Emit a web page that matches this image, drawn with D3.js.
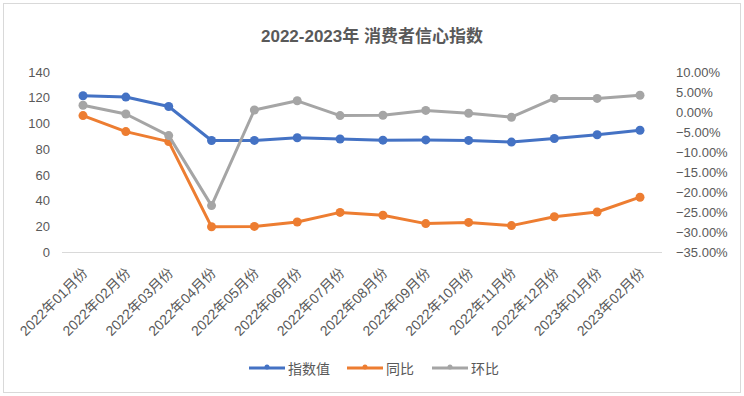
<!DOCTYPE html>
<html><head><meta charset="utf-8">
<script src="https://cdn.jsdelivr.net/npm/d3@7"></script>
<style>
body{margin:0;background:#fff;}
svg text{font-family:"Liberation Sans","Noto Sans CJK SC",sans-serif;fill:#595959;}
</style></head>
<body><svg id="c" width="744" height="396"></svg>
<script>
const categories = ["2022年01月份","2022年02月份","2022年03月份","2022年04月份","2022年05月份","2022年06月份","2022年07月份","2022年08月份","2022年09月份","2022年10月份","2022年11月份","2022年12月份","2023年01月份","2023年02月份"];
const indexValues = [121.5,120.5,113.2,86.7,86.8,88.9,87.9,87.0,87.2,86.8,85.5,88.3,91.2,94.7];
const yoyValues = [-0.009,-0.049,-0.074,-0.287,-0.286,-0.275,-0.251,-0.258,-0.279,-0.276,-0.284,-0.262,-0.250,-0.213];
const momValues = [0.017,-0.005,-0.059,-0.234,0.005,0.028,-0.009,-0.008,0.004,-0.003,-0.013,0.034,0.034,0.042];
const leftTicks = [0,20,40,60,80,100,120,140];
const rightTicks = [-0.35,-0.30,-0.25,-0.20,-0.15,-0.10,-0.05,0,0.05,0.10];
const seriesNames = ["指数值","同比","环比"];
const colors = ["#4472c4","#ed7d31","#a5a5a5"];

const svg = d3.select("#c");
svg.append("rect").attr("x",3.5).attr("y",3.5).attr("width",737).attr("height",389)
  .attr("fill","#fff").attr("stroke","#d9d9d9");

svg.append("text").attr("x",372).attr("y",42).attr("text-anchor","middle")
  .style("font-size","17px").style("font-weight","bold").text("2022-2023年 消费者信心指数");

const x = d3.scalePoint().domain(categories).range([83,640]);
const yL = d3.scaleLinear().domain([0,140]).range([252,72]);
const yR = d3.scaleLinear().domain([-0.35,0.10]).range([252,72]);

svg.append("line").attr("x1",62).attr("x2",662).attr("y1",252.5).attr("y2",252.5).attr("stroke","#d9d9d9");

const la = svg.append("g").attr("transform","translate(50,0)")
  .call(d3.axisLeft(yL).tickValues(leftTicks).tickSize(0).tickPadding(0));
la.select(".domain").remove();
la.selectAll("text").style("font-size","13px").attr("fill","#595959");

const ra = svg.append("g").attr("transform","translate(676,0)")
  .call(d3.axisRight(yR).tickValues(rightTicks).tickSize(0).tickPadding(0).tickFormat(d3.format(".2%")));
ra.select(".domain").remove();
ra.selectAll("text").style("font-size","13px").attr("fill","#595959");

const xa = svg.append("g").attr("transform","translate(0,262)")
  .call(d3.axisBottom(x).tickSize(0).tickPadding(0));
xa.select(".domain").remove();
xa.selectAll("text").style("font-size","14px").attr("fill","#595959")
  .attr("text-anchor","end").attr("dy","0.7em")
  .attr("transform","translate(-2,5) rotate(-45)");

const series = [
  {vals: indexValues, y: yL, c: colors[0]},
  {vals: yoyValues, y: yR, c: colors[1]},
  {vals: momValues, y: yR, c: colors[2]}
];
series.forEach(s => {
  const line = d3.line().x((d,i)=>x(categories[i])).y(d=>s.y(d));
  svg.append("path").datum(s.vals).attr("d",line).attr("fill","none")
    .attr("stroke",s.c).attr("stroke-width",3).attr("stroke-linejoin","round").attr("stroke-linecap","round");
  svg.append("g").selectAll("circle").data(s.vals).join("circle")
    .attr("cx",(d,i)=>x(categories[i])).attr("cy",d=>s.y(d)).attr("r",4.5).attr("fill",s.c);
});

const legX = [249,347,432];
seriesNames.forEach((n,i)=>{
  const g = svg.append("g").attr("transform",`translate(${legX[i]},368)`);
  g.append("line").attr("x1",0).attr("x2",36).attr("y1",0).attr("y2",0).attr("stroke",colors[i]).attr("stroke-width",3);
  g.append("circle").attr("cx",18).attr("cy",-1).attr("r",2.5).attr("fill",colors[i]);
  g.append("text").attr("x",39).attr("y",5.5).style("font-size",n.length>2?"14px":"14px").text(n);
});
</script></body></html>
